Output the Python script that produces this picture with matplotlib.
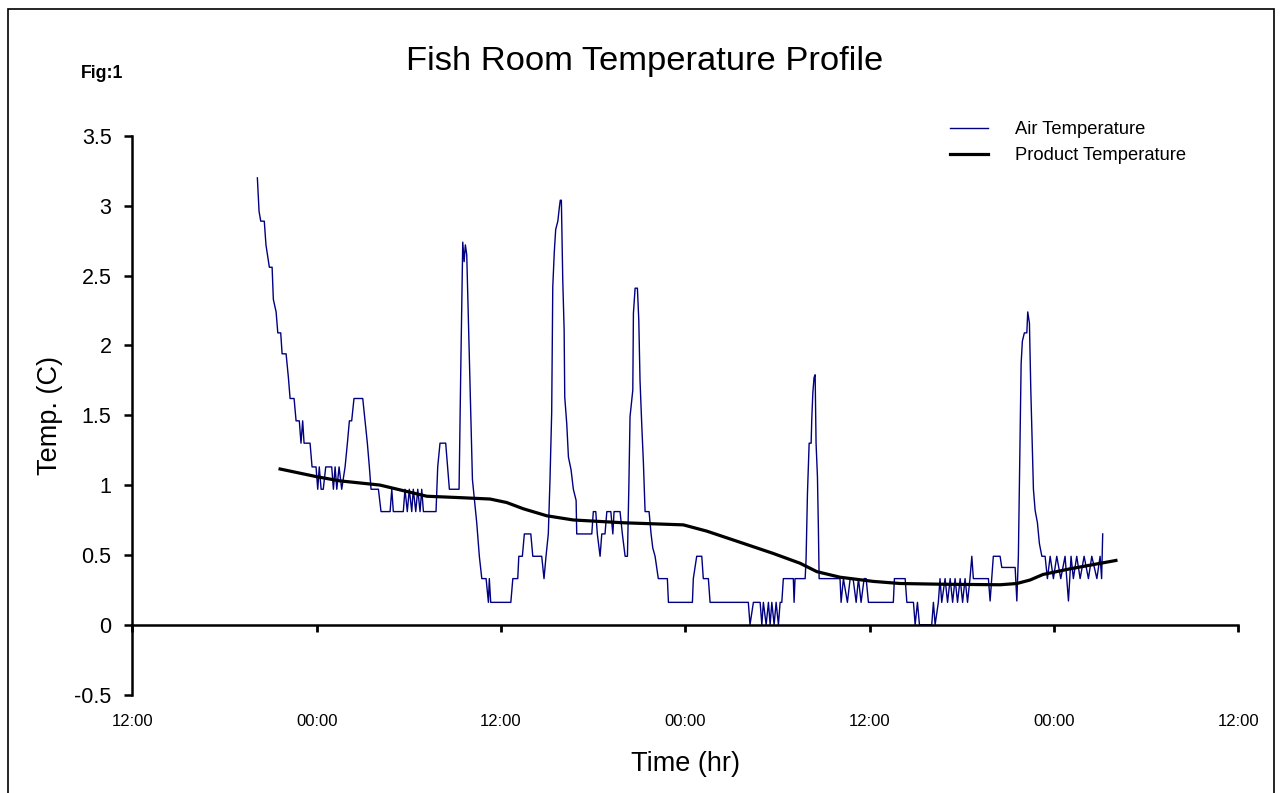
import matplotlib
matplotlib.use("Agg")
import matplotlib.pyplot as plt
from matplotlib.patches import Rectangle

plt.rcParams['font.family'] = ['Liberation Sans', 'DejaVu Sans']

# hours after the first 12:00 on the axis
air_hours = [
    8.14, 8.25, 8.36, 8.59, 8.70, 8.92, 9.10, 9.18, 9.36, 9.47, 9.66, 9.75,
    10.01, 10.16, 10.27, 10.53, 10.66, 10.87, 10.98, 11.09, 11.18, 11.57,
    11.70, 11.96, 12.07, 12.17, 12.29, 12.43, 12.59, 12.98, 13.09, 13.20,
    13.31, 13.46, 13.63, 13.85, 14.00, 14.13, 14.28, 14.43, 15.00, 15.15,
    15.30, 15.43, 15.54, 16.02, 16.19, 16.78, 16.89, 16.99, 17.64, 17.75,
    17.90, 18.03, 18.19, 18.29, 18.45, 18.58, 18.73, 18.84, 18.95, 19.77,
    19.88, 20.03, 20.40, 20.64, 21.27, 21.38, 21.51, 21.60, 21.68, 21.77,
    21.94, 22.14, 22.42, 22.59, 22.75, 23.03, 23.18, 23.24, 23.33,
    24.64, 24.77, 25.09, 25.16, 25.39, 25.52, 25.94, 26.07, 26.65, 26.80,
    26.93, 27.08, 27.19, 27.30, 27.37, 27.47, 27.56, 27.70, 27.80, 27.86,
    27.93, 28.02, 28.11, 28.15, 28.28, 28.39, 28.56, 28.71, 28.89, 28.93,
    29.91, 30.01, 30.17, 30.27, 30.45, 30.56, 30.77, 30.89, 31.15, 31.28,
    31.36, 31.75, 31.90, 32.08, 32.23, 32.32, 32.40, 32.58, 32.62, 32.73,
    32.88, 32.97, 33.05, 33.16, 33.27, 33.38, 33.64, 33.77, 33.88, 34.03,
    34.24, 34.83, 34.90, 36.46, 36.52, 36.74, 37.07, 37.17, 37.50, 37.61,
    40.10, 40.21, 40.43, 40.87, 40.98, 41.08, 41.26, 41.41, 41.52, 41.63,
    41.78, 41.91, 42.06, 42.17, 42.28, 42.38, 43.03, 43.08, 43.14, 43.80,
    43.86, 43.95, 44.06, 44.19, 44.23, 44.30, 44.38, 44.45, 44.51, 44.60,
    44.66, 44.71, 46.07, 46.14, 46.29, 46.55, 46.73, 46.92, 47.12, 47.27,
    47.44, 47.64, 47.77, 47.92, 48.03, 49.54, 49.61, 50.31, 50.42, 50.85,
    50.96, 51.11, 51.24, 52.04, 52.15, 52.26, 52.47, 52.58, 52.69, 52.91,
    53.07, 53.24, 53.40, 53.56, 53.72, 53.89, 54.05, 54.21, 54.37, 54.53,
    54.65, 54.75, 55.73, 55.84, 56.05, 56.49, 56.60, 57.47, 57.58, 57.68,
    57.79, 57.86, 57.94, 58.07, 58.23, 58.29, 58.40, 58.49, 58.59, 58.66,
    58.77, 58.92, 59.05, 59.21, 59.42, 59.57, 59.75, 59.96, 60.18, 60.44,
    60.72, 60.94, 61.11, 61.26, 61.48, 61.70, 61.96, 62.24, 62.46, 62.79,
    63.00, 63.10, 63.17,
]
air_temp = [
    3.20, 2.96, 2.89, 2.89, 2.72, 2.56, 2.56, 2.33, 2.24, 2.09, 2.09, 1.94,
    1.94, 1.77, 1.62, 1.62, 1.46, 1.46, 1.30, 1.46, 1.30, 1.30,
    1.13, 1.13, 0.97, 1.13, 0.97, 0.97, 1.13, 1.13, 0.97, 1.13,
    0.97, 1.13, 0.97, 1.13, 1.30, 1.46, 1.46, 1.62, 1.62, 1.46,
    1.30, 1.13, 0.97, 0.97, 0.81, 0.81, 0.97, 0.81, 0.81, 0.97,
    0.81, 0.97, 0.81, 0.97, 0.81, 0.97, 0.81, 0.97, 0.81, 0.81,
    1.13, 1.30, 1.30, 0.97, 0.97, 1.82, 2.74, 2.60, 2.72, 2.65,
    1.92, 1.04, 0.73, 0.49, 0.33, 0.33, 0.16, 0.33, 0.16,
    0.16, 0.33, 0.33, 0.49, 0.49, 0.65, 0.65, 0.49, 0.49, 0.33,
    0.49, 0.65, 1.04, 1.52, 2.42, 2.67, 2.83, 2.89, 2.99, 3.04,
    3.04, 2.47, 2.11, 1.63, 1.44, 1.20, 1.11, 0.97, 0.89, 0.65,
    0.65, 0.81, 0.81, 0.65, 0.49, 0.65, 0.65, 0.81, 0.81, 0.65,
    0.81, 0.81, 0.65, 0.49, 0.49, 0.97, 1.49, 1.68, 2.23, 2.41,
    2.41, 2.18, 1.75, 1.44, 1.16, 0.81, 0.81, 0.65, 0.55, 0.49,
    0.33, 0.33, 0.16, 0.16, 0.33, 0.49, 0.49, 0.33, 0.33, 0.16,
    0.16, 0.00, 0.16, 0.16, 0.00, 0.16, 0.00, 0.16, 0.00, 0.16,
    0.00, 0.16, 0.00, 0.16, 0.16, 0.33, 0.33, 0.16, 0.33, 0.33,
    0.47, 0.94, 1.30, 1.30, 1.47, 1.66, 1.77, 1.79, 1.30, 1.06,
    0.70, 0.33, 0.33, 0.16, 0.33, 0.16, 0.33, 0.33, 0.16, 0.33,
    0.16, 0.33, 0.33, 0.16, 0.16, 0.16, 0.33, 0.33, 0.16, 0.16,
    0.00, 0.16, 0.00, 0.00, 0.16, 0.00, 0.16, 0.33, 0.16, 0.33,
    0.16, 0.33, 0.16, 0.33, 0.16, 0.33, 0.16, 0.33, 0.16, 0.33,
    0.49, 0.33, 0.33, 0.17, 0.49, 0.49, 0.41, 0.41, 0.17, 0.49,
    1.32, 1.87, 2.03, 2.09, 2.09, 2.24, 2.16, 1.68, 1.25, 0.97,
    0.82, 0.73, 0.58, 0.49, 0.49, 0.33, 0.49, 0.33, 0.49, 0.33,
    0.49, 0.17, 0.49, 0.33, 0.49, 0.33, 0.49, 0.33, 0.49, 0.33,
    0.49, 0.33, 0.65,
]

prod_hours = [9.62, 12.0, 13.52, 16.12, 17.64, 19.17, 21.33, 23.29, 24.37,
              25.46, 26.98, 28.71, 31.97, 35.87, 37.40, 39.57, 41.73, 43.47,
              44.56, 46.07, 48.24, 49.98, 52.58, 56.49, 57.58, 58.44, 59.29,
              61.04, 64.03]
prod_temp = [1.115, 1.06, 1.03, 1.00, 0.96, 0.92, 0.91, 0.90, 0.875,
             0.83, 0.78, 0.75, 0.73, 0.715, 0.67, 0.59, 0.51, 0.44,
             0.38, 0.34, 0.31, 0.295, 0.29, 0.286, 0.295, 0.32, 0.36,
             0.40, 0.46]

tick_hours = [0, 12, 24, 36, 48, 60, 72]
tick_labels = ['12:00', '00:00', '12:00', '00:00', '12:00', '00:00', '12:00']
y_ticks = [-0.5, 0, 0.5, 1, 1.5, 2, 2.5, 3, 3.5]

fig = plt.figure(figsize=(12.81, 7.93), dpi=100)
ax = fig.add_axes([0.1033, 0.1242, 0.8634, 0.7043])

ax.plot(air_hours, air_temp, color='#000080', lw=1.0, label='Air Temperature')
ax.plot(prod_hours, prod_temp, color='black', lw=2.3, label='Product Temperature')

ax.set_xlim(0, 72)
ax.set_ylim(-0.5, 3.5)

for s in ['top', 'right']:
    ax.spines[s].set_visible(False)
ax.spines['bottom'].set_position(('data', 0))
ax.spines['bottom'].set_linewidth(1.8)
ax.spines['left'].set_linewidth(1.8)

ax.set_xticks(tick_hours)
ax.tick_params(axis='x', direction='out', length=5, width=2, labelbottom=False)
ax.set_yticks(y_ticks, labels=[f'{v:g}' for v in y_ticks])
ax.tick_params(axis='y', direction='out', length=6, width=1.8, pad=9,
               labelsize=15.5)
ax.set_ylabel('Temp. (C)', fontsize=19.5, labelpad=8)

sec = ax.secondary_xaxis('bottom')
sec.set_xticks(tick_hours, labels=tick_labels)
sec.spines['bottom'].set_visible(False)
sec.tick_params(length=0, pad=14, labelsize=12)
sec.set_xlabel('Time (hr)', fontsize=19.5, labelpad=16)

ax.legend(loc='upper left', bbox_to_anchor=(0.7416, 0.8475),
          bbox_transform=fig.transFigure, frameon=False, fontsize=13.2,
          borderpad=0, borderaxespad=0, handlelength=2.08,
          handletextpad=1.47, labelspacing=0.5)

fig.text(0.5031, 0.9117, 'Fish Room Temperature Profile', ha='center',
         va='baseline', fontsize=24.8)
fig.text(0.0628, 0.9016, 'Fig:1', ha='left', va='baseline', fontsize=12.8,
         fontweight='bold')

# outer frame; its bottom edge sits just below the picture
fig.patches.append(Rectangle((0.00625, -0.01), 0.9883, 0.9987,
                             transform=fig.transFigure, fill=False,
                             edgecolor='black', lw=1.2))

fig.savefig('out.png', dpi=100)
